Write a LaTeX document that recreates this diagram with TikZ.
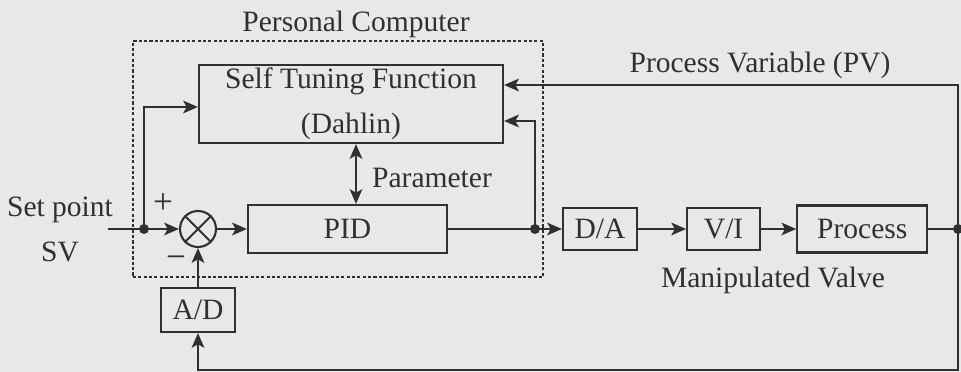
\documentclass[tikz,border=0pt]{standalone}
\usepackage{fontspec}
\setmainfont{Liberation Serif}
\usepackage{tikz}
\usetikzlibrary{arrows.meta,positioning,calc}
\definecolor{Paper}{HTML}{E8E8EA}
\definecolor{Ink}{HTML}{303030}

\begin{document}
\begin{tikzpicture}[
  x=0.025cm,y=-0.025cm,
  every node/.style={text=Ink,font=\fontsize{21}{32}\selectfont},
  box/.style={draw=Ink,line width=1.5pt,fill=Paper,align=center,inner sep=0pt},
  sumpt/.style={circle,draw=Ink,line width=1.5pt,minimum size=0.9cm,inner sep=0pt},
  frame/.style={draw=Ink,line width=1.5pt,dash pattern=on 2.2pt off 1.6pt,inner sep=0pt},
  arr/.style={-{Stealth[length=10.5pt,width=9pt,inset=2.5pt]},line width=1.5pt,draw=Ink},
  dbl/.style={arr,{Stealth[length=10.5pt,width=9pt,inset=2.5pt]}-{Stealth[length=10.5pt,width=9pt,inset=2.5pt]}},
  wire/.style={line width=1.5pt,draw=Ink},
  dot/.style={circle,fill=Ink,minimum size=0.25cm,inner sep=0pt},
  small/.style={font=\fontsize{25}{28}\selectfont}
]
\fill[Paper] (0,0) rectangle (961,372);
\useasboundingbox (0,0) rectangle (961,372);
% computer frame
\node[frame,minimum width=10.25cm,minimum height=5.9cm] (pc) at (338,159) {};
\node (pclabel) at (356,24) {Personal Computer};
\node[box,minimum width=7.6cm,minimum height=1.95cm] (tuning) at (351,104)
 {Self Tuning Function\\(Dahlin)};
\node[sumpt] (sum) at (198,229) {};
\draw[wire] (sum.north west) -- (sum.south east) (sum.north east) -- (sum.south west);
\node[box,minimum width=4.975cm,minimum height=1.2cm] (pid) at (347.5,229) {PID};
\node[box,minimum width=1.85cm,minimum height=1.1cm] (ad) at (198,310) {A/D};
% plant side
\node[box,minimum width=1.85cm,minimum height=1.05cm] (da) at (600,229) {D/A};
\node[box,minimum width=1.825cm,minimum height=1.05cm,right=1.2cm of da] (vi) {V/I};
\node[box,minimum width=3.25cm,minimum height=1.175cm,right=0.875cm of vi] (process) {Process};
\node[dot] (split) at (144,229) {};
\node[dot] (tap) at (535,229) {};
\node[dot] (out) at (958,229) {};
\coordinate (sp) at (108,229);
\coordinate (bottom) at (958,370);
% labels
\node[align=center] (svlabel) at (60,229) {Set point\\SV};
\node[small] (plus) at (163,204) {+};
\node[small] (minus) at (176,262) {−};
\node (param) at (432,178) {Parameter};
\node (pvlabel) at (760,65) {Process Variable (PV)};
\node (valve) at (773,280) {Manipulated Valve};
% signals
\draw[arr] (sp) -- (sum.west);
\draw[arr] (sum) -- (pid);
\draw[arr] (pid) -- (da);
\draw[arr] (da) -- (vi);
\draw[arr] (vi) -- (process);
\draw[wire] (process) -- (out.center);
\draw[arr] (ad) -- (sum);
\draw[arr] (out.center) -- (bottom) -| (ad.south);
\draw[arr] (out.center) |- ([yshift=0.475cm]tuning.east);
\draw[arr] (tap.center) |- ([yshift=-0.425cm]tuning.east);
\draw[arr] (split.center) |- ([yshift=-0.075cm]tuning.west);
\draw[dbl] ([xshift=0.125cm]tuning.south) -- ([xshift=0.125cm]tuning.south |- pid.north);
\end{tikzpicture}
\end{document}
